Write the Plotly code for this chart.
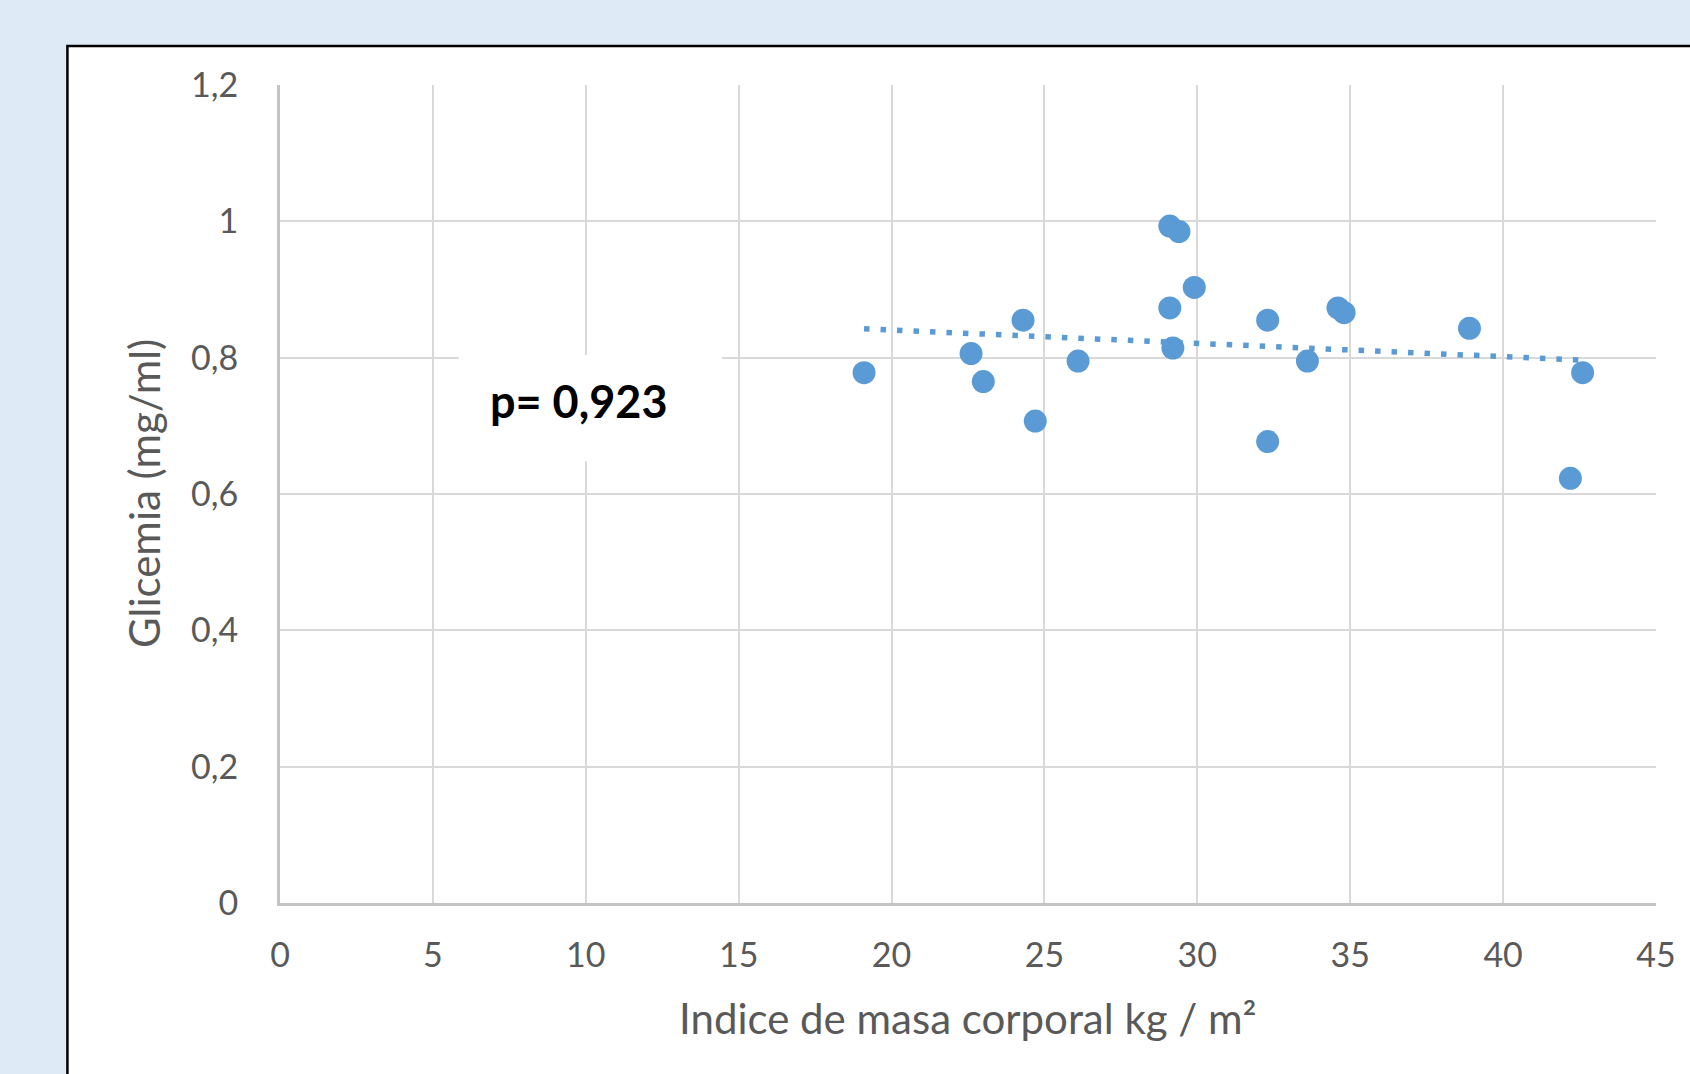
import numpy as np
import plotly.graph_objects as go

# Data
imc = [19.1, 22.6, 23.0, 24.3, 24.7, 26.1, 29.1, 29.4, 29.1, 29.2, 29.9,
       32.3, 32.3, 33.6, 34.6, 34.8, 38.9, 42.2, 42.6]
glicemia = [0.778, 0.806, 0.765, 0.855, 0.707, 0.795, 0.993, 0.985, 0.873,
            0.814, 0.903, 0.855, 0.677, 0.795, 0.873, 0.866, 0.843, 0.623, 0.778]

x_ticks = [0, 5, 10, 15, 20, 25, 30, 35, 40, 45]
y_ticks = [0, 0.2, 0.4, 0.6, 0.8, 1.0, 1.2]

p_text = "<b>p= 0,923</b>"
x_title = "Indice de masa corporal kg / m²"
y_title = "Glicemia (mg/ml)"

# Linear trendline (computed from the data)
slope, intercept = np.polyfit(imc, glicemia, 1)
tx = [min(imc), max(imc)]
ty = [slope * v + intercept for v in tx]

BLUE = "#5B9BD5"
GRID = "#D9D9D9"
TXT = "#595959"
FONT = "Lato, 'Open Sans', sans-serif"

fig = go.Figure()
fig.add_trace(go.Scatter(
    x=tx, y=ty, mode="lines",
    line=dict(color=BLUE, width=5.5, dash="5.5px,11px"),
    hoverinfo="skip", showlegend=False))
fig.add_trace(go.Scatter(
    x=imc, y=glicemia, mode="markers",
    marker=dict(color=BLUE, size=23, line=dict(width=0)),
    showlegend=False))

# white chart box with black border
fig.add_shape(type="rect", xref="paper", yref="paper",
              x0=-0.1545, x1=1.2, y0=-0.3, y1=1.0477,
              line=dict(color="black", width=2.5), fillcolor="white", layer="below")
# white box behind the p-value label (hides gridlines)
fig.add_shape(type="rect", xref="x", yref="y",
              x0=5.85, x1=14.45, y0=0.648, y1=0.804,
              line=dict(width=0), fillcolor="white", layer="between")

fig.add_annotation(x=9.77, y=0.737, xref="x", yref="y", text=p_text,
                   showarrow=False, font=dict(family=FONT, size=45, color="black"))
fig.add_annotation(x=0.5, y=0, xref="paper", yref="paper", yshift=-115,
                   text=x_title, showarrow=False, yanchor="middle",
                   font=dict(family=FONT, size=42, color=TXT))
fig.add_annotation(x=0, y=0.5, xref="paper", yref="paper", xshift=-136,
                   text=y_title, showarrow=False, textangle=-90, xanchor="center",
                   font=dict(family=FONT, size=42, color=TXT))

fig.update_xaxes(range=[0, 45], tickvals=x_ticks, showgrid=True, gridcolor=GRID,
                 gridwidth=2, zeroline=False, showline=True, linecolor="#C4C4C4",
                 linewidth=3, ticks="", ticklabelstandoff=20,
                 tickfont=dict(family=FONT, size=34, color=TXT), fixedrange=True)
fig.update_yaxes(range=[0, 1.2], tickvals=y_ticks, showgrid=True, gridcolor=GRID,
                 gridwidth=2, zeroline=False, showline=True, linecolor="#C4C4C4",
                 linewidth=3, ticks="", ticklabelstandoff=32,
                 tickfont=dict(family=FONT, size=34, color=TXT), fixedrange=True)

fig.update_layout(
    width=1690, height=1074,
    margin=dict(l=280, r=34, t=85, b=171),
    paper_bgcolor="#DEEAF6", plot_bgcolor="rgba(0,0,0,0)",
    separators=",.",
    showlegend=False,
)

fig.write_html(
    "out.html",
    config={"displayModeBar": False},
    post_script="document.body.style.margin='0';document.body.style.overflow='hidden';"
                "document.body.style.background='#DEEAF6';",
)
